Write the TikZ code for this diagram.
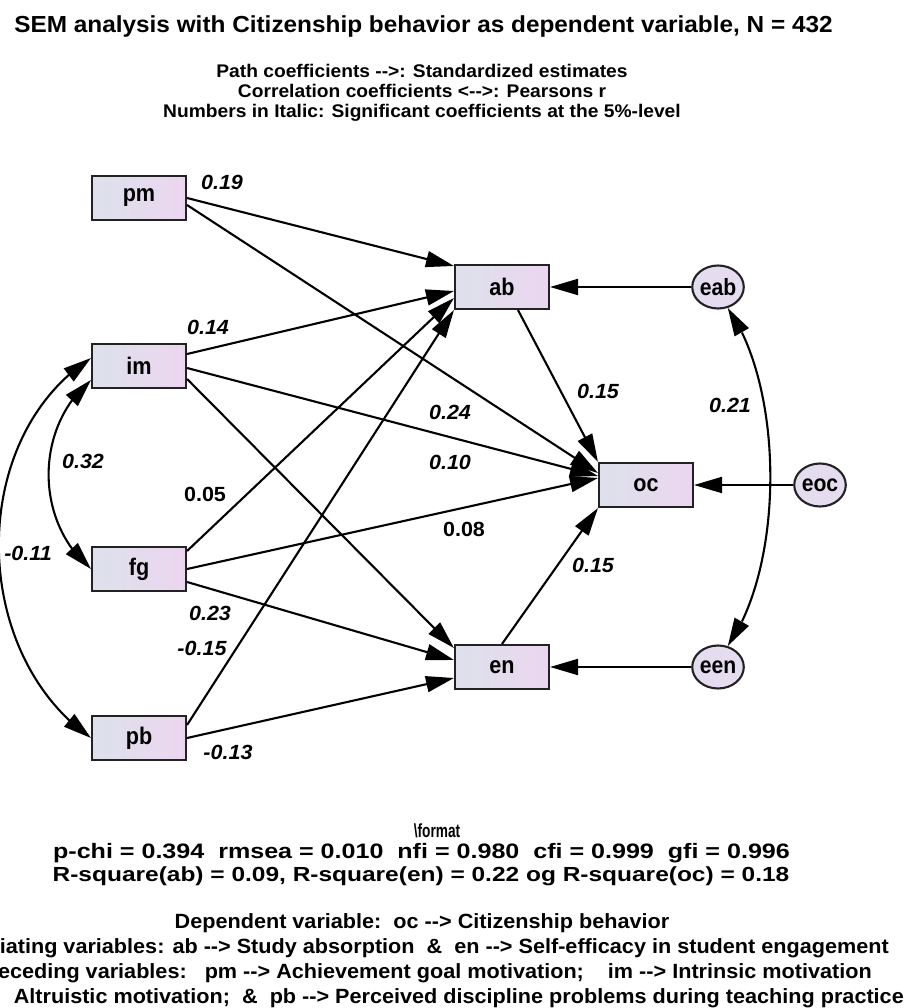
\documentclass[tikz,border=0pt]{standalone}
\usepackage{fontspec}
\setmainfont{Liberation Sans}[FakeStretch=1.05]
\newfontfamily\labelfont{Liberation Sans}[FakeStretch=0.9]
\newfontfamily\narrowfont{Liberation Sans}[FakeStretch=0.72]
\newfontfamily\widefont{Liberation Sans}[FakeStretch=1.2]
\usetikzlibrary{arrows.meta,shapes.geometric,bending}

\definecolor{boxleft}{HTML}{DDE1EC}
\definecolor{boxright}{HTML}{ECD6EF}
\definecolor{errfill}{HTML}{E5DCEF}
\definecolor{edge}{HTML}{222222}

\begin{document}
\begin{tikzpicture}[x=1pt,y=1pt,
    obs/.style={draw=edge, line width=2.1pt, rectangle, minimum width=94pt, minimum height=44pt,
      inner sep=0pt, left color=boxleft, right color=boxright, font=\labelfont\fontsize{24}{26}\selectfont\bfseries},
    err/.style={draw=edge, line width=2.1pt, ellipse, minimum width=51pt, minimum height=43pt,
      inner sep=0pt, fill=errfill, font=\labelfont\fontsize{23.5}{26}\selectfont\bfseries},
    path/.style={line width=2.1pt, -{Triangle[length=28pt,width=16pt]}},
    corr/.style={line width=2.1pt, {Triangle[length=28pt,width=16pt]}-{Triangle[length=28pt,width=16pt]}},
    coef/.style={inner sep=0pt, font=\fontsize{20.5}{22}\selectfont\bfseries\itshape},
    ns/.style={inner sep=0pt, font=\fontsize{20.5}{22}\selectfont\bfseries},
    txt/.style={inner sep=0pt, anchor=base}]
  \useasboundingbox (0,0) rectangle (908,-1008);

  % Heading
  \node[txt, font=\fontsize{23.2}{26}\selectfont\bfseries] (title) at (423.5,-33)
    {SEM analysis with Citizenship behavior as dependent variable, N = 432};
  \node[txt, font=\fontsize{18.3}{20}\selectfont\bfseries] (sub1) at (422,-78)
    {Path coefficients {-}{-}>: Standardized estimates};
  \node[txt, font=\fontsize{18.3}{20}\selectfont\bfseries] (sub2) at (422,-98)
    {Correlation coefficients <{-}{-}>: Pearsons r};
  \node[txt, font=\fontsize{18.3}{20}\selectfont\bfseries] (sub3) at (422,-118)
    {Numbers in Italic: Significant coefficients at the 5\%-level};

  % Observed variables
  \node[obs] (pm) at (139,-198) {pm};
  \node[obs] (im) at (139,-366) {im};
  \node[obs] (fg) at (139,-569) {fg};
  \node[obs] (pb) at (139,-738) {pb};
  \node[obs] (ab) at (502,-287) {ab};
  \node[obs] (oc) at (646,-485) {oc};
  \node[obs] (en) at (502,-667) {en};

  % Error terms
  \node[err] (eab) at (718,-287) {eab};
  \node[err] (eoc) at (820,-485) {eoc};
  \node[err] (een) at (718,-667) {een};

  % Paths
  \draw[path] (pm.east) -- ([yshift=21pt]ab.west);
  \draw[path] ([yshift=-7pt]pm.east) -- ([yshift=12pt]oc.west);
  \draw[path] ([yshift=12pt]im.east) -- ([yshift=-4pt]ab.west);
  \draw[path] ([yshift=-2pt]im.east) -- ([yshift=9pt]oc.west);
  \draw[path] ([yshift=-13pt]im.east) -- ([yshift=19pt]en.west);
  \draw[path] ([yshift=18pt]fg.east) -- ([yshift=-11pt]ab.west);
  \draw[path] (fg.east) -- ([yshift=7pt]oc.west);
  \draw[path] ([yshift=-13pt]fg.east) -- ([yshift=7pt]en.west);
  \draw[path] ([yshift=13pt]pb.east) -- (ab.south west);
  \draw[path] (pb.east) -- ([yshift=-11pt]en.west);
  \draw[path] ([xshift=16pt]ab.south) -- (oc.north west);
  \draw[path] (en.north) -- (oc.south west);
  \draw[path] (eab.west) -- (ab.east);
  \draw[path] (eoc.west) -- (oc.east);
  \draw[path] (een.west) -- (en.east);

  % Correlations
  \draw[corr] ([yshift=-14pt]im.west) to[out=220,in=140] (fg.west);
  \draw[corr] ([yshift=8pt]im.west) to[out=213,in=145] (pb.west);
  \draw[corr] (eab.-65) to[out=-55,in=55,looseness=0.75] (een.65);

  % Coefficients
  \node[coef] (k1) at (222,-182) {0.19};
  \node[coef] (k2) at (208,-327) {0.14};
  \node[coef] (k3) at (450,-412) {0.24};
  \node[coef] (k4) at (450,-462) {0.10};
  \node[ns] (k5) at (205,-494) {0.05};
  \node[ns] (k6) at (464,-529) {0.08};
  \node[coef] (k7) at (83,-461) {0.32};
  \node[coef] (k8) at (28,-553) {-0.11};
  \node[coef] (k9) at (210,-613) {0.23};
  \node[coef] (k10) at (202,-648) {-0.15};
  \node[coef] (k11) at (228,-752) {-0.13};
  \node[coef] (k12) at (598,-391) {0.15};
  \node[coef] (k13) at (730,-405) {0.21};
  \node[coef] (k14) at (593,-565) {0.15};

  % Fit and legend
  \node[txt, font=\narrowfont\fontsize{19}{22}\selectfont\bfseries] (fmt) at (437,-837) {\textbackslash format};
  \node[txt, font=\widefont\fontsize{20.9}{24}\selectfont\bfseries] (fit) at (421.5,-858)
    {p-chi = 0.394\ \ rmsea = 0.010\ \ nfi = 0.980\ \ cfi = 0.999\ \ gfi = 0.996};
  \node[txt, font=\widefont\fontsize{20.4}{24}\selectfont\bfseries] (rsq) at (421,-881)
    {R-square(ab) = 0.09, R-square(en) = 0.22 og R-square(oc) = 0.18};
  \node[txt, font=\fontsize{20.6}{22}\selectfont\bfseries] (dep) at (422,-928)
    {Dependent variable:\ \ oc {-}{-}> Citizenship behavior};
  \node[txt, anchor=base east, font=\fontsize{20.6}{22}\selectfont\bfseries] (med) at (889,-953)
    {iating variables: ab {-}{-}> Study absorption\ \ \&\ \ en {-}{-}> Self-efficacy in student engagement};
  \node[txt, anchor=base east, font=\fontsize{20.6}{22}\selectfont\bfseries] (pre) at (872,-978)
    {eceding variables:\ \ \ pm {-}{-}> Achievement goal motivation;\ \ \ \ im {-}{-}> Intrinsic motivation};
  \node[txt, anchor=base east, font=\fontsize{20.6}{22}\selectfont\bfseries] (alt) at (904,-1003)
    {Altruistic motivation;\ \ \&\ \ pb {-}{-}> Perceived discipline problems during teaching practice};
\end{tikzpicture}
\end{document}
